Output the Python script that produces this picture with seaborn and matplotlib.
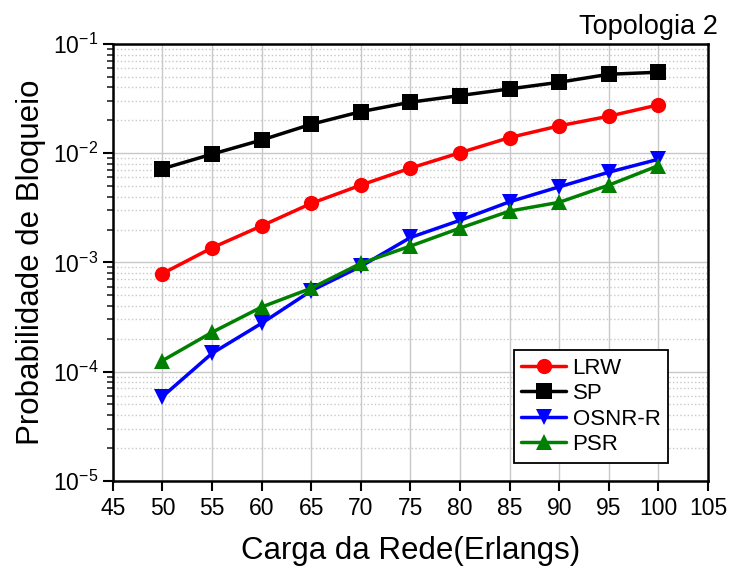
import numpy as np
import pandas as pd
import matplotlib
matplotlib.use("Agg")
import matplotlib.pyplot as plt
import seaborn as sns
from matplotlib.ticker import LogLocator, FixedLocator

# carga da rede (Erlangs)
carga = [50, 55, 60, 65, 70, 75, 80, 85, 90, 95, 100]

# probabilidade de bloqueio
lrw = [0.00079, 0.00136, 0.00216, 0.00347, 0.0051, 0.0073, 0.0101, 0.0139, 0.0178, 0.0218, 0.0277]
sp = [0.0072, 0.0098, 0.0132, 0.0184, 0.0240, 0.0293, 0.0337, 0.0388, 0.0446, 0.0528, 0.0551]
osnr_r = [5.9e-5, 1.47e-4, 2.77e-4, 0.00055, 0.00092, 0.00169, 0.00243, 0.00359, 0.00492, 0.0067, 0.0088]
psr = [1.26e-4, 2.29e-4, 3.9e-4, 0.00058, 0.00098, 0.00141, 0.00206, 0.00295, 0.00355, 0.0051, 0.0077]

series = ["LRW", "SP", "OSNR-R", "PSR"]
cores = {"LRW": "#ff0000", "SP": "#000000", "OSNR-R": "#0000ff", "PSR": "#008000"}
marcadores = {"LRW": "o", "SP": "s", "OSNR-R": "v", "PSR": "^"}

df = pd.DataFrame({
    "carga": carga * 4,
    "pb": lrw + sp + osnr_r + psr,
    "metodo": sum([[s] * len(carga) for s in series], []),
})

sns.set_style("ticks")
plt.rcParams["font.family"] = ["Liberation Sans", "DejaVu Sans"]
plt.rcParams["mathtext.default"] = "regular"
plt.rcParams["text.color"] = "black"
plt.rcParams["axes.labelcolor"] = "black"

fig = plt.figure(figsize=(7.33, 5.71), dpi=100)
ax = fig.add_axes([0.154, 0.158, 0.812, 0.765])

sns.lineplot(
    data=df, x="carga", y="pb", hue="metodo", style="metodo",
    hue_order=series, style_order=series, palette=cores, markers=marcadores,
    dashes=False, linewidth=2.5, markersize=11, markeredgewidth=0, ax=ax,
)

ax.set_yscale("log")
ax.set_ylim(1e-5, 1e-1)
ax.set_xlim(45, 105)
ax.xaxis.set_major_locator(FixedLocator(range(45, 106, 5)))
ax.yaxis.set_major_locator(LogLocator(base=10, numticks=10))
ax.yaxis.set_minor_locator(LogLocator(base=10, subs=np.arange(2, 10), numticks=10))

ax.grid(which="major", color="#c8c8c8", linestyle="-", linewidth=1)
ax.grid(which="minor", axis="y", color="#c8c8c8", linestyle=":", linewidth=1)
ax.set_axisbelow(True)

for sp_ in ax.spines.values():
    sp_.set_linewidth(1.8)
    sp_.set_color("black")

ax.tick_params(axis="both", which="major", direction="out", length=7, width=1.5, labelsize=16.5,
               colors="black")
ax.tick_params(axis="y", which="minor", direction="out", length=4, width=1.2)
ax.tick_params(axis="x", pad=5)

ax.set_xlabel("Carga da Rede(Erlangs)", fontsize=22.5, labelpad=11)
ax.set_ylabel("Probabilidade de Bloqueio", fontsize=22.5, labelpad=5)
fig.text(0.979, 0.952, "Topologia 2", ha="right", va="center", fontsize=19.5)

leg = ax.legend(
    loc="lower right", bbox_to_anchor=(0.933, 0.041), borderaxespad=0, fontsize=16,
    frameon=True, fancybox=False, edgecolor="black", framealpha=1, handlelength=2.0,
    handletextpad=0.3, labelspacing=0.2, borderpad=0.35,
)
leg.get_frame().set_linewidth(1.3)

fig.savefig("out.png", dpi=100)
